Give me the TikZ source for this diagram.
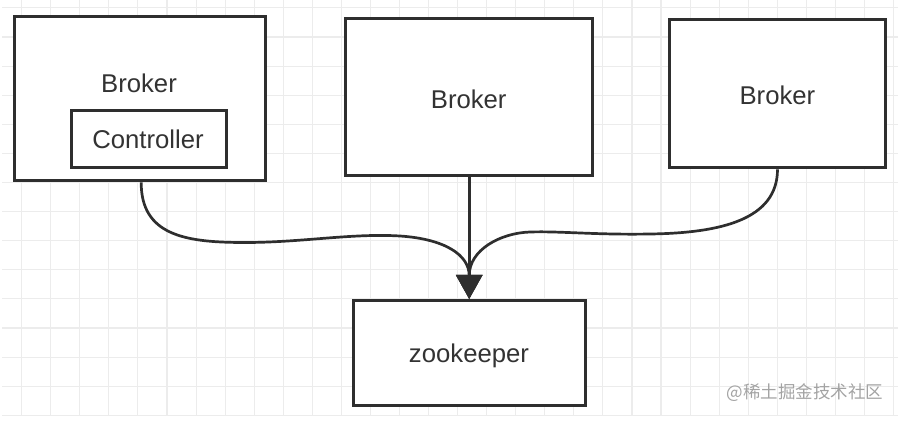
\documentclass[tikz,border=0pt]{standalone}
\usepackage{fontspec}
\setmainfont{Liberation Sans}
\newfontfamily\cjkfont{Noto Sans CJK SC}
\usetikzlibrary{arrows.meta}
\definecolor{linecol}{HTML}{2E2E2E}
\definecolor{textcol}{HTML}{333333}
\definecolor{gridcol}{HTML}{ECECEC}
\definecolor{markcol}{HTML}{A3A3A3}
\tikzset{
  gridline/.style={draw=gridcol, line width=1.1pt},
  boxnode/.style={draw=linecol, fill=white, line width=3pt, inner sep=0pt, rectangle},
  labeltext/.style={text=textcol, anchor=base, inner sep=0pt, font=\fontsize{25.7}{30}\selectfont},
  conn/.style={draw=linecol, line width=2.7pt, -{Triangle[width=26pt,length=24pt]}},
}
\begin{document}
\begin{tikzpicture}[x=1pt, y=-1pt]
\useasboundingbox (0,0) rectangle (923,441);
% grid
\foreach \i in {0,...,30} {
  \draw[gridline] ({21.7+29.06*\i},0) -- ({21.7+29.06*\i},416);
}
\foreach \j in {0,...,14} {
  \draw[gridline] (2,{7.9+29.1*\j}) -- (898,{7.9+29.1*\j});
}
% boxes
\node[boxnode, minimum width=251pt, minimum height=164.3pt] (b1) at (139.7,98.7) {};
\node[boxnode, minimum width=154.7pt, minimum height=57pt] (ctrl) at (148.8,139) {};
\node[boxnode, minimum width=246.7pt, minimum height=157pt] (b2) at (469.2,97.3) {};
\node[boxnode, minimum width=215.4pt, minimum height=148pt] (b3) at (777.5,93.8) {};
\node[boxnode, minimum width=232pt, minimum height=104.7pt] (zk) at (469.2,352.8) {};
% texts
\node[labeltext] (t1) at (139,93) {Broker};
\node[labeltext] (t2) at (148,148.5) {Controller};
\node[labeltext] (t3) at (468.7,108.3) {Broker};
\node[labeltext] (t4) at (777.4,105) {Broker};
\node[labeltext] (t5) at (469,362.5) {zookeeper};
% connectors
\coordinate (l1) at (240,242.5);
\coordinate (l2) at (400,236);
\coordinate (r1) at (650,234);
\coordinate (r2) at (530,232);
\draw[conn] ([xshift=1.5pt]b1.south) .. controls (141,235) and (185,242) .. (l1)
  .. controls (300,243) and (350,233) .. (l2)
  .. controls (445,239) and (469.2,255) .. (zk.north);
\draw[conn] (b3.south) .. controls (777.5,220) and (720,233) .. (r1)
  .. controls (595,235) and (560,231) .. (r2)
  .. controls (500,233) and (469.2,250) .. (zk.north);
\draw[conn] (b2.south) -- (zk.north);
% watermark
\node[text=markcol, font=\cjkfont\fontsize{17.5}{20}\selectfont, inner sep=0pt] (wm) at (805,393) {@稀土掘金技术社区};
\end{tikzpicture}
\end{document}
